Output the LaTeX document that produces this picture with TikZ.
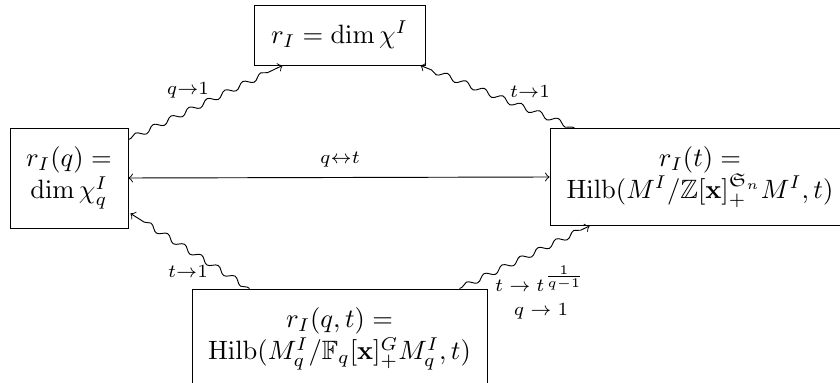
\documentclass[tikz,border=0pt]{standalone}
\usepackage{amsmath,amssymb}
\usetikzlibrary{decorations.pathmorphing,calc}
\newdimen\pxu \pxu=0.377pt
\begin{document}
\begin{tikzpicture}[x=0.377pt,y=-0.377pt, line width=0.35pt,
 box/.style={draw, align=center, inner sep=0pt},
 wavy/.style={->, decorate, decoration={snake, amplitude=1.05pt, segment length=7.5pt, pre length=1pt, post length=3pt}},
 lab/.style={inner sep=1pt}]
\clip (0,0) rectangle (840,383);
\useasboundingbox (0,0) rectangle (840,383);
\node[box, minimum width=118\pxu, minimum height=100\pxu] (L) at (69,178) {$r_I(q) =$\\ $\dim\chi_q^I$};
\node[box, minimum width=171\pxu, minimum height=60\pxu] (T) at (339.5,35) {$r_I = \dim\chi^I$};
\node[box, minimum width=300\pxu, minimum height=97\pxu] (R) at (700,177) {$r_I(t) =$\\ $\mathrm{Hilb}(M^I/\mathbb{Z}[\mathbf{x}]_+^{\mathfrak{S}_n}M^I,t)$};
\node[box, minimum width=295\pxu, minimum height=100\pxu] (B) at (339.5,339) {$r_I(q,t) =$\\ $\mathrm{Hilb}(M_q^I/\mathbb{F}_q[\mathbf{x}]_+^G M_q^I,t)$};
\draw[<->] (L.east) -- (R.west);
\draw[wavy] ($(L.north east)+(0,12)$) -- ($(T.south west)+(29,0)$);
\draw[wavy] ($(R.north west)+(25,0)$) -- ($(T.south east)+(-5,0)$);
\draw[wavy] ($(B.north west)+(58,0)$) -- ($(L.south east)+(2,-15)$);
\draw[wavy] ($(B.north west)+(268,0)$) -- ($(R.south west)+(40,0)$);
\node[lab] (l1) at (188,90) {$\scriptstyle q\to 1$};
\node[lab] (l2) at (530,92) {$\scriptstyle t\to 1$};
\node[lab] (l3) at (340,160) {$\scriptstyle q\leftrightarrow t$};
\node[lab] (l4) at (188,272) {$\scriptstyle t\to 1$};
\node[lab, font=\scriptsize] (l5) at (540,279) {$t\to t^{\frac{1}{q-1}}$};
\node[lab, font=\scriptsize] (l6) at (541,311) {$q\to 1$};
\end{tikzpicture}
\end{document}
